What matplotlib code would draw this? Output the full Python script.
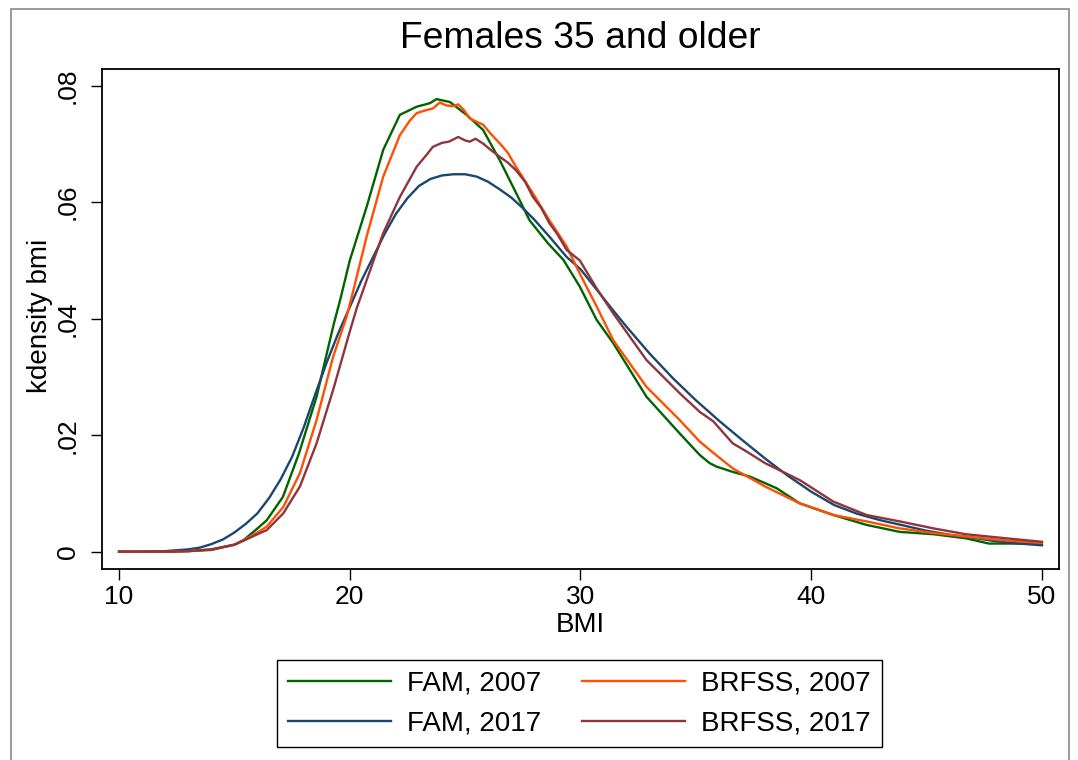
import numpy as np
import matplotlib
matplotlib.use('Agg')
import matplotlib.pyplot as plt
from matplotlib.patches import Rectangle

plt.rcParams['font.family'] = ['Liberation Sans', 'DejaVu Sans']

# kdensity curves (BMI, density)
fam07_x = [10, 12, 13, 14, 15, 15.4, 16, 16.4, 17.1, 17.8, 18.56, 19.3, 19.6, 20.0,
           20.73, 21.45, 22.17, 22.9, 23.47, 23.76, 24.34, 25.06, 25.78, 26.5,
           27.22, 27.79, 28.6, 29.26, 29.97, 30.7, 31.42, 32.86, 34.3, 35.17,
           35.6, 35.9, 36.6, 37.34, 38.5, 39.5, 40.96, 42.4, 43.84, 45.3, 46.7,
           47.7, 49.1, 50]
fam07_y = [0.0, 0.0, 0.0001, 0.0003, 0.0012, 0.0020, 0.0040, 0.0054, 0.0094, 0.0169,
           0.0266, 0.0390, 0.0435, 0.0500, 0.0592, 0.0690, 0.0750, 0.0764, 0.0770,
           0.0777, 0.0772, 0.0750, 0.0724, 0.0672, 0.0615, 0.0569, 0.0529, 0.0501,
           0.0455, 0.0398, 0.0358, 0.0266, 0.0203, 0.0166, 0.0152, 0.0146, 0.0137,
           0.0129, 0.0109, 0.0083, 0.0063, 0.0046, 0.0034, 0.0030, 0.0023, 0.0014,
           0.0014, 0.0013]

fam17_x = [10, 11, 12, 13, 13.5, 14, 14.5, 15, 15.5, 16, 16.5, 17, 17.5, 18, 18.5,
           19, 19.5, 20, 20.5, 21, 21.5, 22, 22.5, 23, 23.5, 24, 24.5, 25, 25.5,
           26, 26.5, 27, 27.5, 28, 28.65, 29.4, 30, 31.4, 32, 33, 34, 35, 36, 37,
           38, 39, 40, 41, 42, 43, 44, 45, 46, 47, 48, 49, 50]
fam17_y = [0.0, 0.00002, 0.0001, 0.0004, 0.0007, 0.0013, 0.0021, 0.0033, 0.0048,
           0.0066, 0.0092, 0.0124, 0.0163, 0.0213, 0.0270, 0.0325, 0.0375, 0.0420,
           0.0465, 0.0505, 0.0545, 0.0580, 0.0607, 0.0628, 0.0640, 0.0646, 0.0648,
           0.0648, 0.0644, 0.0635, 0.0622, 0.0608, 0.0590, 0.0570, 0.0541, 0.0506,
           0.0485, 0.0415, 0.0386, 0.0340, 0.0298, 0.0260, 0.0225, 0.0192, 0.0160,
           0.0130, 0.0103, 0.0080, 0.0065, 0.0054, 0.0045, 0.0036, 0.0029, 0.0024,
           0.0018, 0.0014, 0.0011]

brf07_x = [10, 12, 13, 14, 15, 15.4, 16, 16.4, 17.12, 17.84, 18.56, 19.28, 19.85,
           20.1, 20.73, 21.45, 22.17, 22.6, 22.9, 23.3, 23.6, 23.9, 24.2, 24.5,
           24.7, 24.95, 25.2, 25.5, 25.78, 26.1, 26.5, 26.85, 27.2, 27.94, 28.65,
           29.4, 30.0, 30.7, 31.42, 32.86, 34.3, 35.17, 35.75, 36.6, 38, 39.5,
           40.96, 42.4, 43.84, 45.3, 46.7, 48.2, 50]
brf07_y = [0.0, 0.0, 0.0001, 0.0004, 0.0012, 0.0020, 0.0033, 0.0043, 0.0077, 0.0135,
           0.0226, 0.0335, 0.0402, 0.0440, 0.0541, 0.0644, 0.0715, 0.0740, 0.0753,
           0.0758, 0.0761, 0.0771, 0.0766, 0.0765, 0.0768, 0.0758, 0.0744, 0.0738,
           0.0733, 0.0718, 0.0701, 0.0685, 0.0661, 0.0615, 0.0569, 0.0524, 0.0475,
           0.0421, 0.0363, 0.0283, 0.0226, 0.0189, 0.0170, 0.0143, 0.0112, 0.0083,
           0.0063, 0.0052, 0.0040, 0.0032, 0.0026, 0.0020, 0.0015]

brf17_x = [10, 12, 13, 14, 15, 15.4, 16, 16.4, 17.12, 17.84, 18.56, 19.28, 20.0,
           20.3, 20.73, 21.45, 22.17, 22.9, 23.3, 23.6, 24.0, 24.3, 24.7, 25.0,
           25.2, 25.45, 25.8, 26.1, 26.5, 26.85, 27.2, 27.6, 27.94, 28.3, 28.65,
           29.0, 29.4, 29.97, 30.7, 31.42, 32.86, 34.3, 35.17, 35.75, 36.6, 37.2,
           38, 39.5, 40.96, 42.4, 43.84, 45.3, 46.7, 48.2, 50]
brf17_y = [0.0, 0.0, 0.0001, 0.0004, 0.0012, 0.0019, 0.0030, 0.0037, 0.0066, 0.0112,
           0.0186, 0.0278, 0.0378, 0.0418, 0.0466, 0.0547, 0.0609, 0.0661, 0.0680,
           0.0695, 0.0702, 0.0704, 0.0712, 0.0706, 0.0704, 0.0709, 0.0700, 0.0690,
           0.0678, 0.0668, 0.0655, 0.0635, 0.0609, 0.0590, 0.0564, 0.0545, 0.0518,
           0.0500, 0.0452, 0.0409, 0.0329, 0.0272, 0.0240, 0.0224, 0.0186, 0.0172,
           0.0152, 0.0123, 0.0086, 0.0063, 0.0052, 0.0040, 0.0030, 0.0024, 0.0017]

x_ticks = [10, 20, 30, 40, 50]
y_ticks = [0, 0.02, 0.04, 0.06, 0.08]
y_tick_labels = ['0', '.02', '.04', '.06', '.08']

W, H = 1078, 760
fig = plt.figure(figsize=(W / 100, H / 100), dpi=100)
ax = fig.add_axes([102 / W, 1 - 569 / H, (1059 - 102) / W, (569 - 69) / H])

# outer gray frame (bottom edge is cut off in the original)
fig.patches.append(Rectangle((11 / W, -0.05), (1069 - 11) / W, 1.05 - 8.5 / H,
                             transform=fig.transFigure, fill=False,
                             edgecolor='#808080', linewidth=1.1))

lw = 1.7
l1, = ax.plot(fam07_x, fam07_y, color='#006400', lw=lw, label='FAM, 2007')
l2, = ax.plot(fam17_x, fam17_y, color='#1a476f', lw=lw, label='FAM, 2017')
l3, = ax.plot(brf07_x, brf07_y, color='#ff4f00', lw=lw, label='BRFSS, 2007')
l4, = ax.plot(brf17_x, brf17_y, color='#90353b', lw=lw, label='BRFSS, 2017')

ax.set_xlim(9.26, 50.74)
ax.set_ylim(-0.00297, 0.08287)
ax.set_xticks(x_ticks)
ax.set_yticks(y_ticks)
ax.set_yticklabels(y_tick_labels)
ax.tick_params(axis='both', direction='out', length=7.7, width=1.0,
               labelsize=19, color='black')
ax.tick_params(axis='x', pad=4)
ax.tick_params(axis='y', pad=8.5, labelrotation=90)
for t in ax.get_yticklabels():
    t.set_va('center')
for s in ax.spines.values():
    s.set_linewidth(1.3)
    s.set_color('black')

ax.set_xlabel('BMI', fontsize=20, va='center')
ax.xaxis.set_label_coords(0.5, -0.112)
ax.set_ylabel('kdensity bmi', fontsize=20, va='center')
ax.yaxis.set_label_coords(-0.0648, 0.506)

fig.text(580 / W, 1 - 39 / H, 'Females 35 and older', fontsize=26.8,
         ha='center', va='center')

leg = fig.legend(handles=[l1, l2, l3, l4], loc='center', ncol=2,
                 bbox_to_anchor=(579.5 / W, 1 - 703.5 / H), fontsize=20,
                 frameon=True, fancybox=False, framealpha=1, edgecolor='black',
                 handlelength=3.7, handletextpad=0.6, columnspacing=1.45,
                 borderpad=0.38, labelspacing=0.5, borderaxespad=0)
leg.get_frame().set_linewidth(1.0)

fig.savefig('out.png', dpi=100)
